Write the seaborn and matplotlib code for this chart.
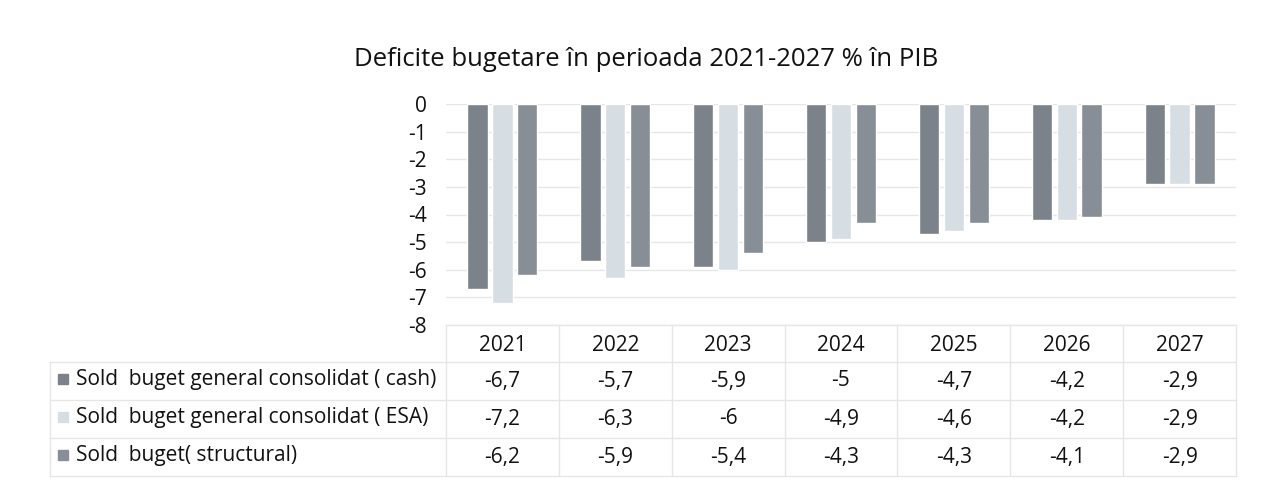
import matplotlib
matplotlib.use("Agg")
import matplotlib.pyplot as plt
import seaborn as sns
import pandas as pd
from matplotlib.lines import Line2D
from matplotlib.patches import Rectangle

years = ["2021", "2022", "2023", "2024", "2025", "2026", "2027"]
series = ["Sold  buget general consolidat ( cash)",
          "Sold  buget general consolidat ( ESA)",
          "Sold  buget( structural)"]
cash = [-6.7, -5.7, -5.9, -5.0, -4.7, -4.2, -2.9]
esa = [-7.2, -6.3, -6.0, -4.9, -4.6, -4.2, -2.9]
structural = [-6.2, -5.9, -5.4, -4.3, -4.3, -4.1, -2.9]
cash_txt = ["-6,7", "-5,7", "-5,9", "-5", "-4,7", "-4,2", "-2,9"]
esa_txt = ["-7,2", "-6,3", "-6", "-4,9", "-4,6", "-4,2", "-2,9"]
struct_txt = ["-6,2", "-5,9", "-5,4", "-4,3", "-4,3", "-4,1", "-2,9"]
yticks = [0, -1, -2, -3, -4, -5, -6, -7, -8]
title = "Deficite bugetare în perioada 2021-2027 % în PIB"
colors = ["#7c8289", "#d6dee4", "#888e95"]

sns.set_theme(style="white")
plt.rcParams["font.family"] = ["Open Sans", "DejaVu Sans"]

df = pd.DataFrame({
    "year": years * 3,
    "series": [series[0]] * 7 + [series[1]] * 7 + [series[2]] * 7,
    "value": cash + esa + structural,
})

W, H = 1264, 488
fig = plt.figure(figsize=(W / 100, H / 100), dpi=100)
fig.patch.set_facecolor("white")

def fx(px):
    return px / W

def fy(py):
    return 1 - py / H

FS = 15
TXT = "#111111"

ax_l, ax_r, ax_t, ax_b = 446, 1236, 104, 325
ax = fig.add_axes([fx(ax_l), fy(ax_b), fx(ax_r - ax_l), fy(ax_t) - fy(ax_b)])
sns.barplot(data=df, x="year", y="value", hue="series", palette=colors,
            width=0.66, gap=0.18, ax=ax, legend=False, saturation=1)
ax.set_ylim(-8, 0)
ax.set_xlim(-0.5, 6.5)
ax.set_yticks(yticks)
ax.set_yticklabels([str(t) for t in yticks], fontsize=FS, color=TXT)
ax.set_xticks([])
ax.set_xlabel("")
ax.set_ylabel("")
ax.tick_params(axis="y", length=0, pad=14)
for s in ax.spines.values():
    s.set_visible(False)
for t in yticks:
    ax.axhline(t, color="#e6e6e6", lw=1, zorder=0)
ax.set_axisbelow(True)

fig.text(fx(646), fy(60), title, ha="center", va="center", fontsize=18.5, color=TXT)

# data table
col_w = (ax_r - ax_l) / 7
row_edges = [325, 362, 400, 438, 476]
line_c = "#e6e6e6"
for y in row_edges[1:]:
    fig.add_artist(Line2D([fx(50), fx(ax_r)], [fy(y), fy(y)], color=line_c, lw=1))
fig.add_artist(Line2D([fx(ax_l), fx(ax_r)], [fy(row_edges[0]), fy(row_edges[0])], color=line_c, lw=1))
fig.add_artist(Line2D([fx(50), fx(50)], [fy(row_edges[1]), fy(row_edges[-1])], color=line_c, lw=1))
for i in range(8):
    x = ax_l + i * col_w
    fig.add_artist(Line2D([fx(x), fx(x)], [fy(row_edges[0]), fy(row_edges[-1])], color=line_c, lw=1))

for i, yr in enumerate(years):
    cx = ax_l + (i + 0.5) * col_w
    fig.text(fx(cx), fy((row_edges[0] + row_edges[1]) / 2 + 2), yr, ha="center", va="center",
             fontsize=FS, color=TXT)
    for r, txt in enumerate([cash_txt, esa_txt, struct_txt]):
        cy = (row_edges[r + 1] + row_edges[r + 2]) / 2
        fig.text(fx(cx), fy(cy), txt[i], ha="center", va="center", fontsize=FS, color=TXT)

for r, name in enumerate(series):
    cy = (row_edges[r + 1] + row_edges[r + 2]) / 2 - 2
    fig.add_artist(Rectangle((fx(58), fy(cy + 5)), fx(10), fy(0) - fy(10),
                             color=colors[r], transform=fig.transFigure))
    fig.text(fx(76), fy(cy), name, ha="left", va="center", fontsize=FS, color=TXT)

fig.savefig("out.png", dpi=100, facecolor="white")
